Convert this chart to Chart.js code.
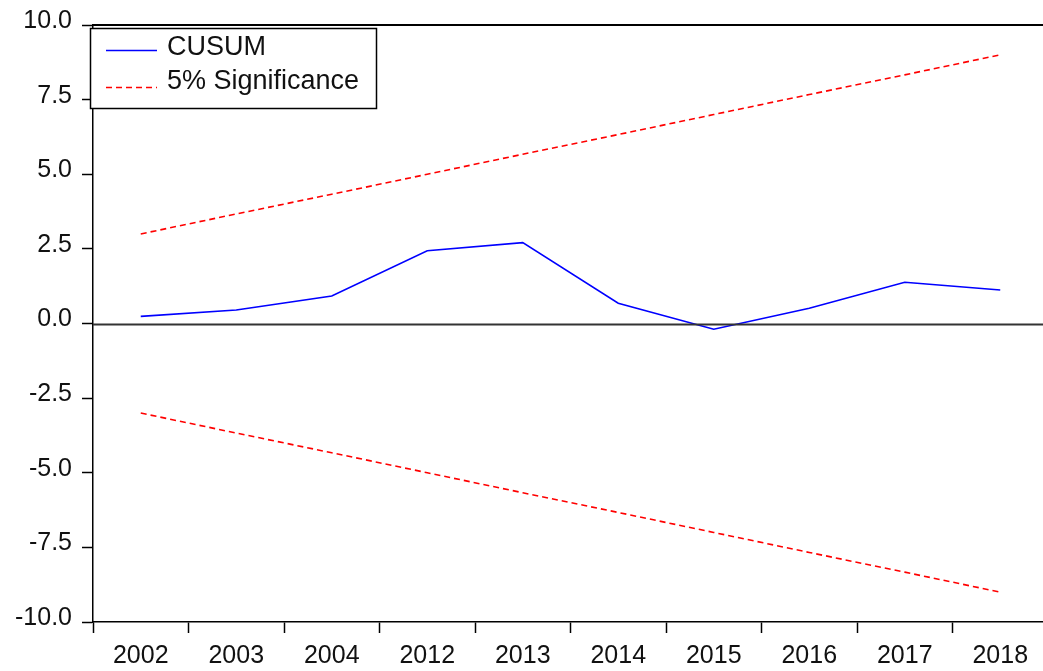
<!DOCTYPE html>
<html>
<head>
<meta charset="utf-8">
<script src="https://cdn.jsdelivr.net/npm/chart.js@4/dist/chart.umd.min.js"></script>
<style>
html,body{margin:0;padding:0;background:#fff;overflow:hidden;}
#wrap{position:relative;width:1048px;height:671px;}
</style>
</head>
<body>
<div id="wrap"><canvas id="c"></canvas></div>
<script>
const categories = ['2002','2003','2004','2012','2013','2014','2015','2016','2017','2018'];
const cusumValues = [0.24, 0.45, 0.92, 2.44, 2.71, 0.68, -0.19, 0.51, 1.38, 1.12];
const upperBound = [3.0, 3.67, 4.33, 5.0, 5.67, 6.33, 7.0, 7.67, 8.33, 9.0];
const lowerBound = [-3.0, -3.67, -4.33, -5.0, -5.67, -6.33, -7.0, -7.67, -8.33, -9.0];
const yMin = -10, yMax = 10, yStep = 2.5;
const seriesNames = ['CUSUM', '5% Significance'];

const FONT = '"Liberation Sans", Arial, sans-serif';
const DASH = [6, 4];

const framePlugin = {
  id: 'frame',
  afterDatasetsDraw(chart) {
    const ctx = chart.ctx, a = chart.chartArea, y = chart.scales.y;
    ctx.save();
    ctx.strokeStyle = '#000';
    ctx.lineWidth = 2;
    ctx.beginPath(); ctx.moveTo(a.left - 1, a.top); ctx.lineTo(a.right, a.top); ctx.stroke();
    const z = Math.round(y.getPixelForValue(0)) + 0.5;
    ctx.strokeStyle = '#333';
    ctx.lineWidth = 2;
    ctx.beginPath(); ctx.moveTo(a.left, z); ctx.lineTo(a.right, z); ctx.stroke();
    ctx.restore();
  },
  afterDraw(chart) {
    const ctx = chart.ctx;
    ctx.save();
    const bx = 90.5, by = 28.5, bw = 286, bh = 80;
    ctx.fillStyle = '#fff';
    ctx.fillRect(bx, by, bw, bh);
    ctx.strokeStyle = '#000';
    ctx.lineWidth = 1.5;
    ctx.strokeRect(bx, by, bw, bh);
    ctx.lineWidth = 1.6;
    ctx.strokeStyle = '#0000ff';
    ctx.setLineDash([]);
    ctx.beginPath(); ctx.moveTo(106, 50.5); ctx.lineTo(157, 50.5); ctx.stroke();
    ctx.strokeStyle = '#ff0000';
    ctx.setLineDash(DASH);
    ctx.beginPath(); ctx.moveTo(106, 87.5); ctx.lineTo(157, 87.5); ctx.stroke();
    ctx.setLineDash([]);
    ctx.fillStyle = '#111';
    ctx.font = '27px ' + FONT;
    ctx.textBaseline = 'middle';
    ctx.textAlign = 'left';
    ctx.fillText(seriesNames[0], 167, 48);
    ctx.fillText(seriesNames[1], 167, 82);
    ctx.restore();
  }
};

new Chart(document.getElementById('c'), {
  type: 'line',
  data: {
    labels: categories,
    datasets: [
      { label: seriesNames[0], data: cusumValues, borderColor: '#0000ff', borderWidth: 1.6, pointRadius: 0, tension: 0, fill: false },
      { label: seriesNames[1], data: upperBound, borderColor: '#ff0000', borderWidth: 1.6, borderDash: DASH, pointRadius: 0, tension: 0, fill: false },
      { label: seriesNames[1] + ' (lower)', data: lowerBound, borderColor: '#ff0000', borderWidth: 1.6, borderDash: DASH, pointRadius: 0, tension: 0, fill: false }
    ]
  },
  options: {
    responsive: true,
    maintainAspectRatio: false,
    animation: false,
    layout: { padding: { top: 25, left: 0, right: 0, bottom: 0 } },
    plugins: { legend: { display: false }, tooltip: { enabled: false } },
    scales: {
      x: {
        type: 'category',
        offset: true,
        grid: { offset: true, drawOnChartArea: false, drawTicks: true, tickLength: 11, tickColor: '#000', tickWidth: 1.5 },
        border: { display: true, color: '#000', width: 1.5 },
        ticks: { color: '#111', font: { family: FONT, size: 25 }, padding: 8, maxRotation: 0, autoSkip: false },
        afterFit(s) { s.height = 49; }
      },
      y: {
        min: yMin, max: yMax,
        ticks: {
          stepSize: yStep, color: '#111', font: { family: FONT, size: 25 }, padding: 10, labelOffset: -4,
          callback: v => Number(v).toFixed(1)
        },
        grid: { drawOnChartArea: false, drawTicks: true, tickLength: 11, tickColor: '#000', tickWidth: 1.5 },
        border: { display: true, color: '#000', width: 1.5 },
        afterFit(s) { s.width = 93; }
      }
    }
  },
  plugins: [framePlugin]
});
</script>
</body>
</html>
